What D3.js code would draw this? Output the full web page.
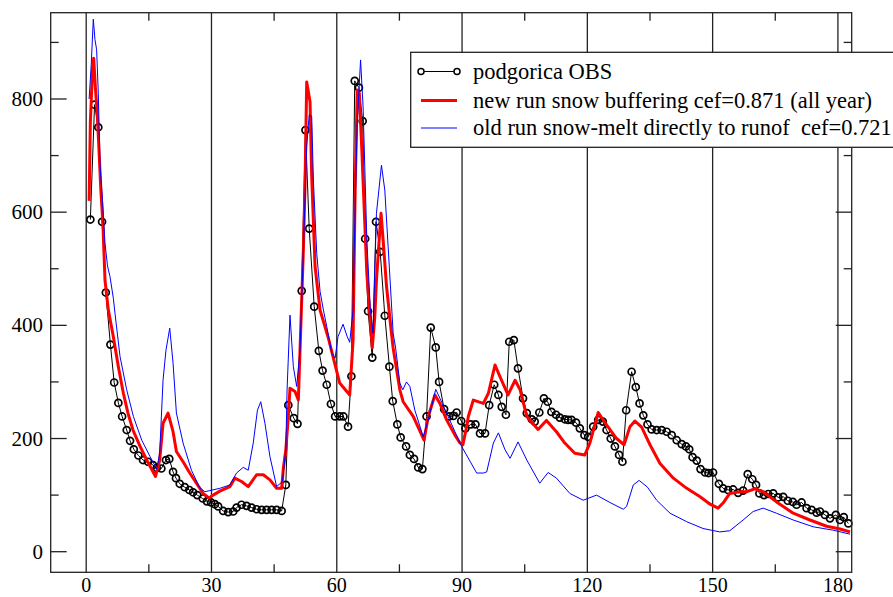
<!DOCTYPE html>
<html>
<head>
<meta charset="utf-8">
<script src="https://cdn.jsdelivr.net/npm/d3@7"></script>
<style>
  body { margin: 0; background: #fff; }
  svg { display: block; }
</style>
</head>
<body>
<div id="chart"></div>
<script>
// podgorica OBS (day, discharge)
let obsDay = [1, 2, 2.9, 3.8, 4.7, 5.8, 6.7, 7.7, 8.6, 9.7, 10.5, 11.4, 12.5, 13.6, 14.8, 16, 16.9, 18, 19.1, 19.9,
    20.8, 21.5, 22.4, 23.6, 24.7, 25.6, 26.6, 27.9, 28.9, 29.9, 30.8, 31.6, 32.8, 34, 35.2, 36, 37.2, 38.4, 39.6, 40.8,
    42, 43.2, 44.4, 45.6, 46.8, 47.8, 48.4, 49.7, 50.6, 51.6, 52.5, 53.4, 54.6, 55.7, 56.6, 57.6, 58.6, 59.6, 60.7, 61.6,
    62.7, 63.5, 64.3, 65.3, 66.2, 66.8, 67.5, 68.5, 69.4, 70.4, 71.5, 72.6, 73.4, 74.5, 75.3, 76.6, 77.5, 78.5, 79.5, 80.5,
    81.5, 82.5, 83.7, 84.5, 85.7, 86.9, 87.9, 88.7, 89.8, 90.8, 92.1, 93.2, 94.3, 95.5, 96.5, 97.7, 98.7, 99.5, 100.5, 101.3,
    102.4, 103.4, 104.6, 105.5, 106.7, 107.4, 108.5, 109.6, 110.5, 111.4, 112.5, 113.4, 114.6, 115.4, 116.2, 117.3, 118.2, 119.3, 120.2, 121.4,
    122.6, 123.7, 124.6, 125.6, 126.6, 127.6, 128.4, 129.3, 130.6, 131.6, 132.5, 133.4, 134.4, 135.4, 136.6, 137.8, 139, 140.2, 141.4, 142.6,
    143.6, 144.4, 145.2, 146.2, 147.1, 148.2, 149, 150.1, 151.5, 152.5, 153.7, 154.9, 156.1, 157.3, 158.4, 159.5, 160.4, 161.2, 162.3, 163.3,
    164.5, 165.7, 166.9, 168, 169.2, 170.1, 171.3, 172.5, 173.7, 174.9, 175.7, 176.9, 178.1, 179.5, 180.5, 181.4, 182.5];
let obsVal = [587, 790, 750, 583, 458, 366, 299, 263, 239, 215, 196, 181, 170, 162, 159, 153, 148, 147, 162, 164,
    141, 130, 120, 114, 109, 105, 100, 94, 89, 87, 84, 80, 72, 70, 71, 78, 83, 81, 78, 75,
    74, 74, 74, 74, 72, 118, 259, 236, 226, 461, 745, 571, 433, 355, 320, 295, 261, 239, 239, 239,
    221, 310, 832, 820, 761, 553, 425, 343, 583, 530, 417, 327, 266, 225, 202, 186, 171, 164, 149, 146,
    239, 396, 361, 300, 252, 239, 240, 246, 231, 218, 225, 225, 209, 209, 259, 295, 277, 256, 242, 371,
    374, 324, 271, 245, 234, 230, 246, 271, 265, 247, 242, 237, 234, 233, 233, 228, 218, 206, 203, 221,
    233, 230, 215, 200, 186, 171, 159, 250, 318, 291, 262, 241, 225, 216, 215, 215, 212, 206, 197, 190,
    186, 181, 167, 161, 146, 140, 139, 140, 120, 112, 109, 110, 104, 108, 137, 128, 118, 103, 100, 102,
    103, 96, 97, 90, 88, 83, 87, 77, 74, 69, 71, 65, 59, 65, 56, 61, 50];

// new run snow buffering
let newDay = [0.7, 1.0, 1.5, 1.8, 2.2, 2.6, 3.0, 3.5, 4.0, 4.5, 5.3, 6.5, 7.7, 8.9, 10, 11.2, 12.9, 14.5, 16.6, 17.6,
    18.4, 19.6, 20.8, 21.6, 23.2, 24.8, 26.4, 28, 29.4, 30.4, 32, 34.4, 35.6, 37.2, 38.8, 40.8, 42.4, 44, 45.6, 46.8,
    47.2, 47.8, 48.4, 48.8, 50, 50.8, 51.2, 52, 52.4, 52.8, 53.6, 54, 54.8, 56, 58, 60.7, 63.1, 63.9, 64.4, 64.9,
    65.4, 66, 67.2, 68.5, 69.1, 69.5, 70.6, 71.1, 71.9, 73.1, 73.5, 75.1, 75.9, 78.3, 80.9, 81.9, 83.5, 84.7, 86.3, 88.3,
    89.5, 90.2, 91.1, 91.5, 92.7, 95.1, 96.3, 97.9, 99.1, 101, 102.7, 103.9, 105.5, 108.2, 110.2, 112.6, 114.6, 117, 119.4, 120.6,
    122.6, 124.6, 127, 128.8, 130.2, 131.4, 133, 135, 137.4, 140.6, 143.8, 147, 149.4, 151.3, 152.5, 154.1, 156.5, 158.1, 160.1, 162.1,
    165.3, 169.3, 173.3, 177.3, 180.5, 182.9];
let newVal = [620, 760, 850, 872, 820, 780, 720, 640, 580, 480, 427, 380, 327, 280, 245, 215, 186, 162, 133, 162,
    227, 245, 212, 177, 159, 139, 121, 103, 95, 100, 107, 115, 130, 124, 115, 136, 136, 127, 112, 112,
    147, 180, 239, 289, 283, 268, 356, 533, 650, 830, 795, 663, 504, 427, 377, 298, 277, 374, 639, 816,
    810, 710, 492, 360, 415, 480, 598, 551, 470, 386, 360, 286, 265, 239, 197, 239, 277, 262, 233, 206,
    192, 189, 221, 239, 268, 262, 280, 330, 309, 277, 303, 286, 239, 216, 232, 212, 192, 174, 171, 192,
    246, 224, 200, 189, 221, 231, 220, 189, 156, 130, 112, 97, 84, 77, 86, 103, 106, 106, 111, 106,
    88, 68, 56, 45, 40, 35];

// old run snow-melt directly to runoff
let oldDay = [0.7, 1.2, 1.7, 2.1, 2.5, 2.9, 3.3, 3.9, 4.5, 5.1, 5.7, 6.5, 6.9, 8.1, 9.7, 11.3, 13.3, 15.3, 16.9, 17.6,
    18.4, 19.1, 20, 20.8, 21.6, 23.2, 25.2, 27.2, 28.4, 29.6, 32, 34.4, 36, 37.6, 38.8, 40, 41, 41.8, 42.8, 44,
    45.6, 47, 47.8, 48.1, 48.8, 49.6, 50.4, 51.2, 52, 52.8, 53.4, 54, 54.4, 55.2, 56, 56.8, 57.6, 58.8, 59.6, 60.3,
    61.5, 62.5, 63.1, 63.9, 64.4, 64.9, 65.7, 66.3, 67.2, 68, 68.7, 69.5, 70.7, 71.5, 72.3, 73.5, 74.1, 75.1, 75.8, 76.7,
    77.5, 78.7, 80.7, 81.9, 83.7, 84.7, 86.3, 88.3, 89.9, 91.9, 93.5, 95.1, 95.9, 97.5, 98.7, 100.3, 101.5, 103.4, 105.5, 108.6,
    110.6, 112.6, 115.8, 119, 122.2, 125.4, 128.6, 129.4, 131, 132.4, 134.4, 136.6, 139.8, 143.8, 147.7, 151.7, 154.1, 157.3, 159.7, 162.1,
    165.3, 169.3, 174.1, 178.9, 182.9];
let oldVal = [800, 860, 941, 905, 887, 810, 686, 621, 545, 505, 486, 448, 421, 345, 286, 239, 197, 168, 146, 174,
    303, 356, 395, 333, 245, 192, 144, 113, 106, 108, 112, 118, 139, 149, 144, 192, 250, 265, 227, 168,
    115, 124, 180, 286, 418, 327, 292, 356, 533, 716, 772, 769, 657, 527, 460, 427, 398, 351, 342, 380,
    402, 380, 370, 427, 610, 757, 869, 786, 551, 433, 386, 598, 683, 639, 539, 386, 360, 298, 286, 300,
    292, 250, 203, 233, 287, 271, 245, 212, 186, 160, 139, 139, 141, 192, 210, 180, 165, 194, 162, 121,
    140, 130, 103, 91, 100, 87, 75, 80, 118, 126, 114, 91, 68, 53, 41, 35, 37, 56, 71, 77,
    68, 56, 44, 38, 31];

let xTicks = [0, 30, 60, 90, 120, 150, 180];
let xMinor = [15, 45, 75, 105, 135, 165];
let yTicks = [0, 200, 400, 600, 800];
let yMinor = [100, 300, 500, 700, 900];

let legendLabels = [
    'podgorica OBS',
    'new run snow buffering cef=0.871 (all year)',
    'old run snow-melt directly to runof\u00a0 cef=0.721'
];

let serif = '"Liberation Serif", "Times New Roman", Times, "DejaVu Serif", serif';

function drawChart() {
    let width = 893, height = 597;
    let left = 50.7, right = 851.7, top = 12.7, bottom = 572.3;

    let svg = d3.select('#chart').append('svg')
        .attr('width', width)
        .attr('height', height)
        .attr('font-family', serif);

    let x = d3.scaleLinear().domain([-8.5, 183.3]).range([left, right]);
    let y = d3.scaleLinear().domain([-36.4, 952.5]).range([bottom, top]);

    // vertical grid lines at the major x ticks
    svg.append('g').selectAll('line').data(xTicks).enter().append('line')
        .attr('x1', d => x(d)).attr('x2', d => x(d))
        .attr('y1', top).attr('y2', bottom)
        .attr('stroke', '#222').attr('stroke-width', 1.3);

    // minor x ticks, bottom and top, pointing inward
    let xm = svg.append('g');
    xMinor.forEach(function (d) {
        xm.append('line').attr('x1', x(d)).attr('x2', x(d)).attr('y1', bottom).attr('y2', bottom - 8)
            .attr('stroke', '#222').attr('stroke-width', 1.3);
        xm.append('line').attr('x1', x(d)).attr('x2', x(d)).attr('y1', top).attr('y2', top + 8)
            .attr('stroke', '#222').attr('stroke-width', 1.3);
    });

    // y ticks, left and right
    let yt = svg.append('g');
    yTicks.forEach(function (d) {
        yt.append('line').attr('x1', left).attr('x2', left + 16).attr('y1', y(d)).attr('y2', y(d))
            .attr('stroke', '#222').attr('stroke-width', 1.3);
        yt.append('line').attr('x1', right).attr('x2', right - 16).attr('y1', y(d)).attr('y2', y(d))
            .attr('stroke', '#222').attr('stroke-width', 1.3);
    });
    yMinor.forEach(function (d) {
        yt.append('line').attr('x1', left).attr('x2', left + 8).attr('y1', y(d)).attr('y2', y(d))
            .attr('stroke', '#222').attr('stroke-width', 1.3);
        yt.append('line').attr('x1', right).attr('x2', right - 8).attr('y1', y(d)).attr('y2', y(d))
            .attr('stroke', '#222').attr('stroke-width', 1.3);
    });

    // tick labels
    svg.append('g').selectAll('text').data(xTicks).enter().append('text')
        .attr('x', d => x(d)).attr('y', 592)
        .attr('text-anchor', 'middle')
        .attr('font-size', 20)
        .text(d => d);

    svg.append('g').selectAll('text').data(yTicks).enter().append('text')
        .attr('x', 43).attr('y', d => y(d) + 7)
        .attr('text-anchor', 'end')
        .attr('font-size', 21)
        .text(d => d);

    let line = d3.line()
        .x(d => x(d[0]))
        .y(d => y(d[1]));

    let obs = d3.zip(obsDay, obsVal);
    let newRun = d3.zip(newDay, newVal);
    let oldRun = d3.zip(oldDay, oldVal);

    // observations: thin black line with open circles
    svg.append('path').datum(obs)
        .attr('d', line)
        .attr('fill', 'none').attr('stroke', '#000').attr('stroke-width', 1);

    svg.append('g').selectAll('circle').data(obs).enter().append('circle')
        .attr('cx', d => x(d[0])).attr('cy', d => y(d[1]))
        .attr('r', 3.5)
        .attr('fill', 'none').attr('stroke', '#000').attr('stroke-width', 1.7);

    // new run
    svg.append('path').datum(newRun)
        .attr('d', line)
        .attr('fill', 'none').attr('stroke', '#ff0000').attr('stroke-width', 3)
        .attr('stroke-linejoin', 'round');

    // old run
    svg.append('path').datum(oldRun)
        .attr('d', line)
        .attr('fill', 'none').attr('stroke', '#0000ff').attr('stroke-width', 1);

    // frame
    svg.append('rect')
        .attr('x', left).attr('y', top)
        .attr('width', right - left).attr('height', bottom - top)
        .attr('fill', 'none').attr('stroke', '#222').attr('stroke-width', 1.3);

    // legend
    let legend = svg.append('g');
    legend.append('rect')
        .attr('x', 410.7).attr('y', 52.3)
        .attr('width', 500).attr('height', 95)
        .attr('fill', '#fff').attr('stroke', '#222').attr('stroke-width', 1.3);

    let rowY = [71.5, 100.5, 128];
    let styles = [
        {color: '#000', w: 1},
        {color: '#ff0000', w: 3},
        {color: '#0000ff', w: 1}
    ];
    legendLabels.forEach(function (label, i) {
        legend.append('line')
            .attr('x1', 421).attr('x2', 457)
            .attr('y1', rowY[i]).attr('y2', rowY[i])
            .attr('stroke', styles[i].color).attr('stroke-width', styles[i].w);
        if (i === 0) {
            [421, 457].forEach(function (cx) {
                legend.append('circle').attr('cx', cx).attr('cy', rowY[i]).attr('r', 3)
                    .attr('fill', '#fff').attr('stroke', '#000').attr('stroke-width', 1.5);
            });
        }
        legend.append('text')
            .attr('x', 473).attr('y', rowY[i] + 7)
            .attr('font-size', 22.5)
            .text(label);
    });
}

drawChart();
</script>
</body>
</html>
